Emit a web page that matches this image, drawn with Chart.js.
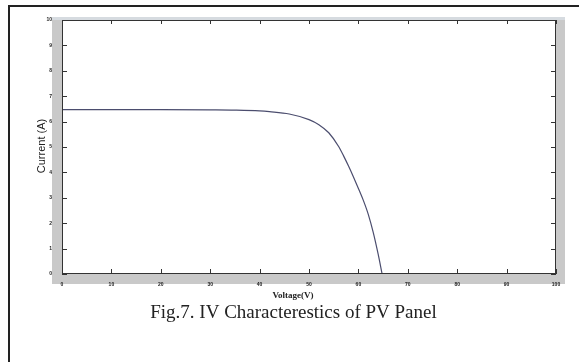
<!DOCTYPE html>
<html>
<head>
<meta charset="utf-8">
<script src="https://cdn.jsdelivr.net/npm/chart.js@4/dist/chart.umd.min.js"></script>
<style>
  html, body { margin: 0; padding: 0; background: #fff; }
  #wrap { position: relative; width: 579px; height: 362px; }
  canvas { display: block; }
</style>
</head>
<body>
<div id="wrap"><canvas id="ivChart" width="579" height="362"></canvas></div>
<script>
const voltage = [0, 10, 20, 30, 35, 40, 42, 46, 50, 52, 54, 56, 57, 58, 59, 60, 61, 62, 63, 64, 64.8];
const current = [6.47, 6.47, 6.47, 6.46, 6.45, 6.42, 6.39, 6.3, 6.08, 5.88, 5.56, 5.02, 4.65, 4.25, 3.82, 3.37, 2.9, 2.35, 1.64, 0.78, 0];
const xTicks = [0, 10, 20, 30, 40, 50, 60, 70, 80, 90, 100];
const yTicks = [0, 1, 2, 3, 4, 5, 6, 7, 8, 9, 10];

const points = voltage.map((v, i) => ({ x: v, y: current[i] }));

// Marco gris, borde exterior, marcas internas y textos
const figurePlugin = {
  id: 'figure',
  beforeDraw(chart) {
    const { ctx, chartArea: a } = chart;
    ctx.save();
    ctx.fillStyle = '#fff';
    ctx.fillRect(0, 0, chart.width, chart.height);
    // fondo gris de la figura
    ctx.fillStyle = '#c9c9c9';
    ctx.fillRect(52, 17, 513, 267);
    ctx.fillStyle = '#d6dbe0';
    ctx.fillRect(52, 17, 513, 3);
    ctx.fillStyle = '#fff';
    ctx.fillRect(a.left, a.top, a.right - a.left, a.bottom - a.top);
    // borde de la pagina
    ctx.strokeStyle = '#222';
    ctx.lineWidth = 2;
    ctx.beginPath();
    ctx.moveTo(579, 6);
    ctx.lineTo(9, 6);
    ctx.lineTo(9, 362);
    ctx.stroke();
    ctx.restore();
  },
  afterDraw(chart) {
    const { ctx, chartArea: a, scales } = chart;
    ctx.save();
    ctx.strokeStyle = '#333';
    ctx.lineWidth = 1;
    ctx.strokeRect(a.left + 0.5, a.top + 0.5, a.right - a.left - 1, a.bottom - a.top - 1);
    ctx.beginPath();
    xTicks.forEach(v => {
      const x = Math.round(scales.x.getPixelForValue(v)) + 0.5;
      ctx.moveTo(x, a.bottom); ctx.lineTo(x, a.bottom - 5);
      ctx.moveTo(x, a.top); ctx.lineTo(x, a.top + 4);
    });
    yTicks.forEach(v => {
      const y = Math.round(scales.y.getPixelForValue(v)) + 0.5;
      ctx.moveTo(a.left, y); ctx.lineTo(a.left + 5, y);
      ctx.moveTo(a.right, y); ctx.lineTo(a.right - 5, y);
    });
    ctx.stroke();

    ctx.fillStyle = '#222';
    ctx.font = '11px "Liberation Sans Narrow", "Liberation Sans", sans-serif';
    ctx.textAlign = 'center';
    ctx.textBaseline = 'middle';
    ctx.translate(42, 146);
    ctx.rotate(-Math.PI / 2);
    ctx.fillText('Current (A)', 0, 0);
    ctx.setTransform(1, 0, 0, 1, 0, 0);

    ctx.font = 'bold 9px "Liberation Serif", serif';
    ctx.fillText('Voltage(V)', 293, 296);

    ctx.font = '19px "Liberation Serif", "Times New Roman", serif';
    ctx.textBaseline = 'alphabetic';
    ctx.fillText('Fig.7. IV Characterestics of PV Panel', 293.5, 318);
    ctx.restore();
  }
};

new Chart(document.getElementById('ivChart'), {
  type: 'scatter',
  data: {
    datasets: [{
      data: points,
      showLine: true,
      borderColor: '#4b4d6e',
      borderWidth: 1.2,
      pointRadius: 0,
      cubicInterpolationMode: 'monotone'
    }]
  },
  options: {
    responsive: false,
    animation: false,
    layout: { padding: { top: 20, right: 23, left: 0, bottom: 0 } },
    plugins: { legend: { display: false }, tooltip: { enabled: false } },
    scales: {
      x: {
        type: 'linear',
        min: 0, max: 100,
        afterBuildTicks: s => { s.ticks = xTicks.map(v => ({ value: v })); },
        afterFit: s => { s.height = 88; },
        grid: { display: false },
        border: { display: false },
        ticks: { padding: 0, color: '#222', font: { size: 5, weight: 'bold', family: 'Liberation Sans' } }
      },
      y: {
        type: 'linear',
        min: 0, max: 10,
        afterBuildTicks: s => { s.ticks = yTicks.map(v => ({ value: v })); },
        afterFit: s => { s.width = 62; },
        grid: { display: false },
        border: { display: false },
        ticks: { padding: 2, color: '#222', font: { size: 5, weight: 'bold', family: 'Liberation Sans' } }
      }
    }
  },
  plugins: [figurePlugin]
});
</script>
</body>
</html>
